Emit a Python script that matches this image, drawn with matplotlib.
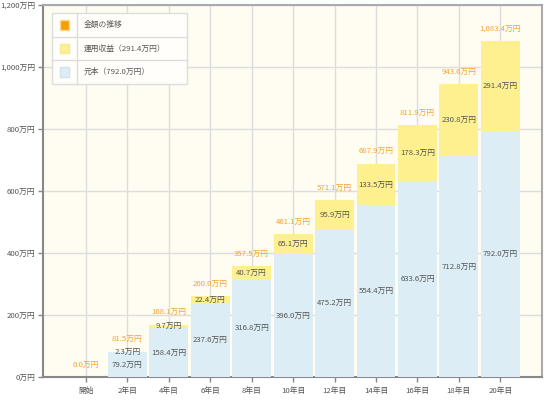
import matplotlib
matplotlib.use("Agg")
import matplotlib.pyplot as plt
from matplotlib.patches import Rectangle
from matplotlib.lines import Line2D

plt.rcParams['font.family'] = ['Noto Sans CJK JP', 'DejaVu Sans']

categories = ['開始', '2年目', '4年目', '6年目', '8年目', '10年目',
              '12年目', '14年目', '16年目', '18年目', '20年目']
principal = [0.0, 79.2, 158.4, 237.6, 316.8, 396.0, 475.2, 554.4, 633.6, 712.8, 792.0]
gains = [0.0, 2.3, 9.7, 22.4, 40.7, 65.1, 95.9, 133.5, 178.3, 230.8, 291.4]
totals = [0.0, 81.5, 168.1, 260.0, 357.5, 461.1, 571.1, 687.9, 811.9, 943.6, 1083.4]
yticks = [0, 200, 400, 600, 800, 1000, 1200]
legend_labels = ['金額の推移', '運用収益（291.4万円）', '元本（792.0万円）']

BLUE = '#DCEDF5'
YELLOW = '#FFF08F'
ORANGE = '#F5A000'
ORANGE_TXT = '#F3A434'
TXT = '#555555'
FS = 5.6

fig = plt.figure(figsize=(5.5, 4), dpi=100)
ax = fig.add_axes([0.078, 0.0575, 0.907, 0.93])
ax.set_facecolor('#FFFCF2')

x = list(range(len(categories)))
ax.bar(x, principal, width=0.94, color=BLUE, zorder=3)
ax.bar(x, gains, bottom=principal, width=0.94, color=YELLOW, zorder=3)

def fmt(v):
    return f'{v:,.1f}万円'

for i in x:
    if principal[i] > 0:
        ax.text(i, principal[i] / 2, fmt(principal[i]), ha='center', va='center',
                fontsize=FS, color=TXT, zorder=5)
    if gains[i] > 0:
        ax.text(i, principal[i] + gains[i] / 2, fmt(gains[i]), ha='center', va='center',
                fontsize=FS, color=TXT, zorder=5)
    ax.annotate(fmt(totals[i]), (i, totals[i]), xytext=(0, 9), textcoords='offset points',
                ha='center', va='center', fontsize=FS, color=ORANGE_TXT, zorder=5)

ax.set_xlim(-1.04, 11.0)
ax.set_ylim(0, 1200)
ax.set_xticks(x)
ax.set_xticklabels(categories)
ax.set_yticks(yticks)
ax.set_yticklabels([f'{v:,}万円' for v in yticks])
ax.tick_params(axis='both', labelsize=FS, colors='#888888', labelcolor=TXT, length=3.5,
               width=1, pad=2)
ax.tick_params(axis='x', pad=4)
ax.grid(True, color='#DDDDDD', linewidth=1, zorder=1)
ax.set_axisbelow(True)
for s in ['left', 'bottom']:
    ax.spines[s].set_color('#888888')
    ax.spines[s].set_linewidth(1.5)
for s in ['top', 'right']:
    ax.spines[s].set_color('#AAAAAA')
    ax.spines[s].set_linewidth(1.5)

# custom legend box
lx0, lx1 = 0.018, 0.289
ly0, ly1 = 0.788, 0.978
sep = 0.068
ax.add_patch(Rectangle((lx0, ly0), lx1 - lx0, ly1 - ly0, transform=ax.transAxes,
                       facecolor='#FFFEFA', edgecolor='#DDDDDD', linewidth=1, zorder=6))
rh = (ly1 - ly0) / 3
for k in range(1, 3):
    ax.add_line(Line2D([lx0, lx1], [ly0 + k * rh] * 2, transform=ax.transAxes,
                       color='#DDDDDD', linewidth=1, zorder=7))
ax.add_line(Line2D([sep, sep], [ly0, ly1], transform=ax.transAxes,
                   color='#DDDDDD', linewidth=1, zorder=7))
sw_face = [ORANGE, YELLOW, BLUE]
sw_edge = ['#FAD79A', '#F5E89A', '#CFE3EE']
sqw, sqh = 0.018, 0.026
for k in range(3):
    cy = ly1 - rh * (k + 0.5)
    cx = (lx0 + sep) / 2
    ax.add_patch(Rectangle((cx - sqw / 2, cy - sqh / 2), sqw, sqh, transform=ax.transAxes,
                           facecolor=sw_face[k], edgecolor=sw_edge[k], linewidth=1, zorder=8))
    ax.text(sep + 0.014, cy, legend_labels[k], transform=ax.transAxes, ha='left',
            va='center', fontsize=FS, color=TXT, zorder=8)

fig.savefig('out.png', dpi=100, facecolor='white')
